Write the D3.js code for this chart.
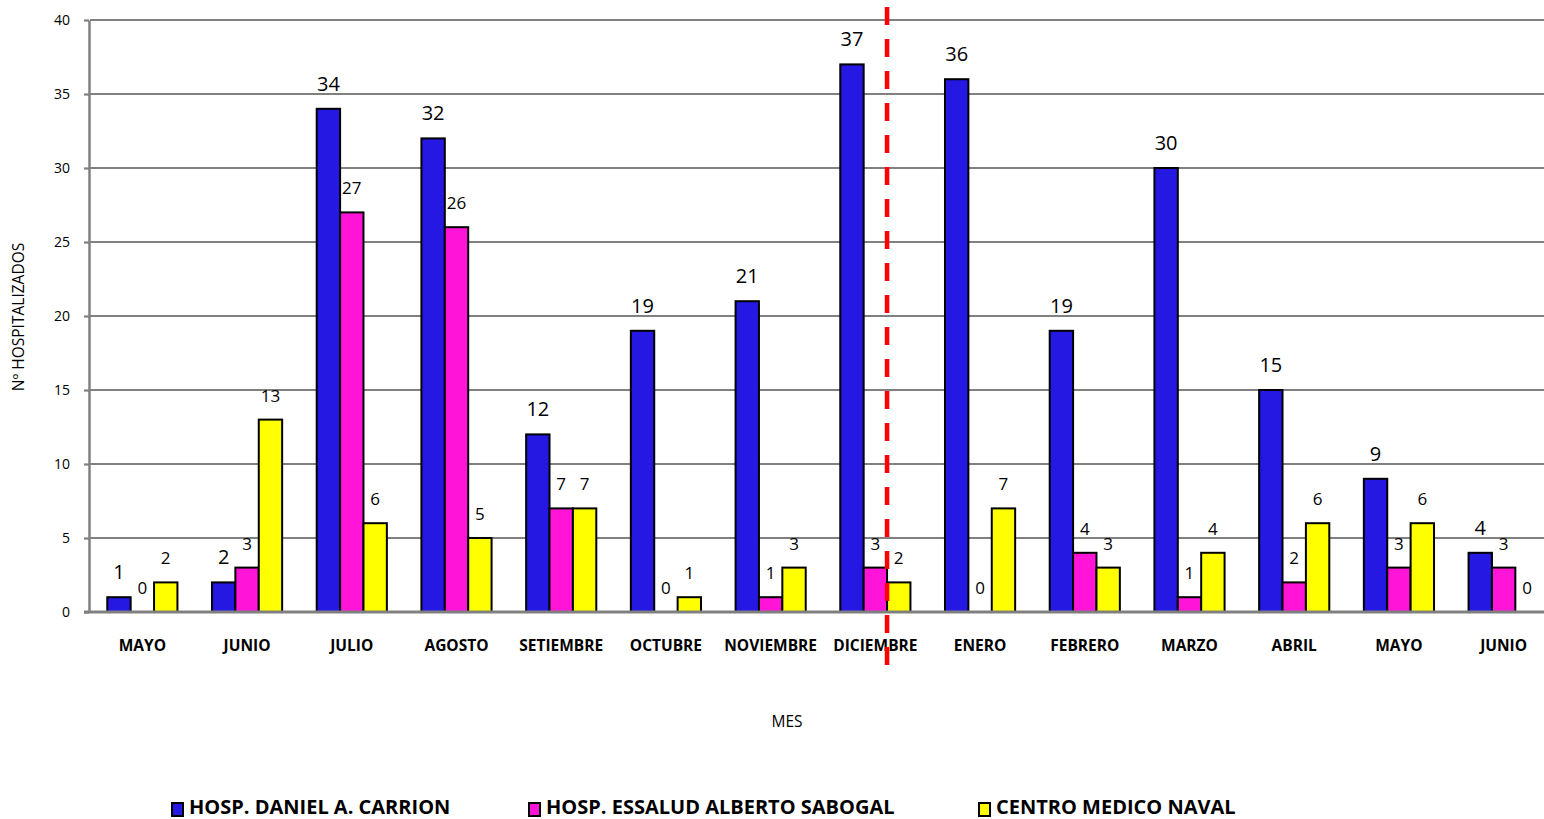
<!DOCTYPE html>
<html><head><meta charset="utf-8">
<script src="https://cdn.jsdelivr.net/npm/d3@7/dist/d3.min.js"></script>
<style>
body{margin:0;background:#fff;}
svg{display:block;}
text{font-family:"Open Sans","Noto Sans",sans-serif;fill:#000;}
</style></head><body>
<svg id="c" width="1544" height="819"></svg>
<script>
const months = ["MAYO","JUNIO","JULIO","AGOSTO","SETIEMBRE","OCTUBRE","NOVIEMBRE","DICIEMBRE","ENERO","FEBRERO","MARZO","ABRIL","MAYO","JUNIO"];
const seriesNames = ["HOSP. DANIEL A. CARRION","HOSP. ESSALUD ALBERTO SABOGAL","CENTRO MEDICO NAVAL"];
const carrion = [1,2,34,32,12,19,21,37,36,19,30,15,9,4];
const sabogal = [0,3,27,26,7,0,1,3,0,4,1,2,3,3];
const naval   = [2,13,6,5,7,1,3,2,7,3,4,6,6,0];
const yTicks = [0,5,10,15,20,25,30,35,40];
const colors = ["#2418E2","#FF14D8","#FFFF00"];
const dividerMonthIndex = 7;

(function(){
const series = [carrion, sabogal, naval];
const svg = d3.select("#c");
const W = 1544;
const pL = 90, pR = 1556, pT = 20, pB = 612;

const keys = months.map((m,i)=>i);
const x = d3.scaleBand().domain(keys).range([pL,pR]).paddingInner(0.33).paddingOuter(0.165);
const x1 = d3.scaleBand().domain([0,1,2]).range([0,x.bandwidth()]);
const y = d3.scaleLinear().domain([0,40]).range([pB,pT]);

// gridlines
svg.append("g").selectAll("line").data(yTicks.filter(d=>d>0)).join("line")
  .attr("x1",pL).attr("x2",W).attr("y1",d=>y(d)).attr("y2",d=>y(d))
  .attr("stroke","#808080").attr("stroke-width",2.2);

// y axis
const ya = svg.append("g").attr("transform",`translate(${pL-1},0)`)
  .call(d3.axisLeft(y).tickValues(yTicks).tickSize(5).tickSizeOuter(0).tickPadding(14));
ya.select(".domain").attr("stroke","#808080").attr("stroke-width",2.5);
ya.selectAll(".tick line").attr("stroke","#808080").attr("stroke-width",2.2);
ya.selectAll(".tick text").attr("font-size",14).attr("font-family","Open Sans").attr("fill","#000");

// bars
const groups = svg.append("g").selectAll("g").data(keys).join("g")
  .attr("transform",d=>`translate(${x(d)},0)`);
groups.selectAll("rect").data(i=>series.map((s,k)=>({k,v:s[i]}))).join("rect")
  .attr("x",d=>x1(d.k)).attr("width",x1.bandwidth())
  .attr("y",d=>y(d.v)).attr("height",d=>y(0)-y(d.v))
  .attr("fill",d=>colors[d.k]).attr("stroke","#000").attr("stroke-width",2)
  .style("display",d=>d.v===0?"none":null);

// baseline
svg.append("line").attr("x1",pL-6).attr("x2",W).attr("y1",y(0)).attr("y2",y(0))
  .attr("stroke","#808080").attr("stroke-width",3);

// value labels
groups.selectAll("text.v").data(i=>series.map((s,k)=>({k,v:s[i]}))).join("text")
  .attr("class","v")
  .attr("x",d=>x1(d.k)+x1.bandwidth()/2)
  .attr("y",d=>y(d.v)-18)
  .attr("text-anchor","middle")
  .attr("font-size",d=>d.k===0?20:17)
  .text(d=>d.v);

// x labels
svg.append("g").selectAll("text").data(keys).join("text")
  .attr("x",d=>x(d)+x.bandwidth()/2).attr("y",651)
  .attr("text-anchor","middle").attr("font-size",15.5).attr("font-weight","bold")
  .text(d=>months[d]);

// divider
const divX = x(dividerMonthIndex)+x1(1)+x1.bandwidth();
svg.append("line").attr("x1",divX).attr("x2",divX).attr("y1",7).attr("y2",676)
  .attr("stroke","#FF0000").attr("stroke-width",4.5).attr("stroke-dasharray","18,14");

// axis titles
svg.append("text").attr("x",787).attr("y",727).attr("text-anchor","middle").attr("font-size",15.5).text("MES");
svg.append("text").attr("transform","translate(24,317) rotate(-90)").attr("text-anchor","middle")
  .attr("font-size",15.5).text("Nº HOSPITALIZADOS");

// legend
const legX = [172,529,979];
const lg = svg.append("g").selectAll("g").data(seriesNames).join("g")
  .attr("transform",(d,i)=>`translate(${legX[i]},803)`);
lg.append("rect").attr("width",11).attr("height",13).attr("fill",(d,i)=>colors[i]).attr("stroke","#000").attr("stroke-width",2);
lg.append("text").attr("x",17).attr("y",11).attr("font-size",20).attr("font-weight","bold")
  .text(d=>d);
})();
</script></body></html>
